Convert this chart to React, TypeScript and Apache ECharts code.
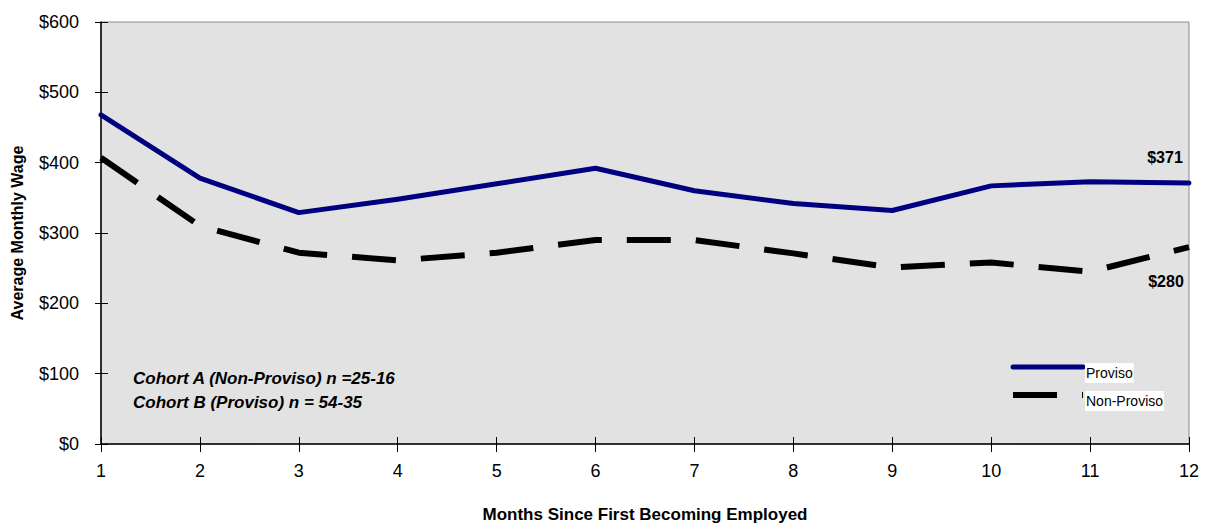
import React, { useEffect, useRef } from "react";
import * as echarts from "echarts";

const months = ["1", "2", "3", "4", "5", "6", "7", "8", "9", "10", "11", "12"];
const proviso = [468, 378, 329, 348, 370, 392, 360, 342, 332, 367, 373, 371];
const nonProviso = [407, 310, 272, 261, 272, 290, 290, 271, 251, 258, 245, 280];
const seriesNames = ["Proviso", "Non-Proviso"];
const cohortNotes = [
  "Cohort A (Non-Proviso) n =25-16",
  "Cohort B (Proviso) n = 54-35",
];

const NARROW = "'Liberation Sans Narrow', 'Arial Narrow', 'Liberation Sans', Arial, sans-serif";
const SANS = "'Liberation Sans', Arial, sans-serif";

const PROVISO_COLOR = "#000080";
const NON_PROVISO_COLOR = "#000000";
const DASH = [44, 25];

export default function App() {
  const ref = useRef<HTMLDivElement>(null);

  useEffect(() => {
    if (!ref.current) return;
    const chart = echarts.init(ref.current, null, { renderer: "svg" });
    const last = months.length - 1;

    const endLabel = (offset: number[]) => ({
      show: true,
      position: "inside",
      offset,
      fontFamily: SANS,
      fontWeight: "bold",
      fontSize: 16,
      color: "#000",
      formatter: (p: any) => (p.dataIndex === last ? "$" + p.value : ""),
    });

    const gridBox = { left: 101, right: 19, top: 22, bottom: 81, outerBoundsMode: "none" };

    // Hand-drawn key in the lower right of the plot
    const legendX = 1013;
    const legendRows = [
      { y: 367, stroke: PROVISO_COLOR, width: 5, dash: null as number[] | null, cap: "round" },
      { y: 395, stroke: NON_PROVISO_COLOR, width: 6, dash: DASH, cap: "butt" },
    ];
    const legendGraphics: any[] = [];
    legendRows.forEach((r, i) => {
      legendGraphics.push({
        type: "line",
        z: 10,
        shape: { x1: legendX, y1: r.y, x2: legendX + 70, y2: r.y },
        style: {
          stroke: r.stroke,
          lineWidth: r.width,
          lineDash: r.dash || undefined,
          lineCap: r.cap,
        },
      });
      legendGraphics.push({
        type: "text",
        z: 10,
        x: legendX + 72,
        y: r.y + 6,
        style: {
          text: seriesNames[i],
          fontFamily: NARROW,
          fontSize: 14,
          fill: "#000",
          verticalAlign: "middle",
          backgroundColor: "#ffffff",
          padding: [3, 1, 3, 1],
        },
      });
    });

    chart.setOption({
      animation: false,
      backgroundColor: "#ffffff",
      grid: [
        {
          ...gridBox,
          show: true,
          backgroundColor: "#e2e2e2",
          borderColor: "#8c8c8c",
          borderWidth: 1,
        },
        { ...gridBox, show: false },
      ],
      xAxis: [
        {
          type: "category",
          gridIndex: 0,
          data: months,
          boundaryGap: false,
          position: "bottom",
          name: "Months Since First Becoming Employed",
          nameLocation: "middle",
          nameGap: 62,
          nameTextStyle: { fontFamily: SANS, fontWeight: "bold", fontSize: 17, color: "#000" },
          axisLine: { show: true, lineStyle: { color: "#000", width: 1.5 } },
          axisTick: { show: true, length: 8, lineStyle: { color: "#000" } },
          axisLabel: { fontFamily: NARROW, fontSize: 18, color: "#000", margin: 18 },
          splitLine: { show: false },
        },
        {
          type: "category",
          gridIndex: 1,
          data: months,
          boundaryGap: false,
          position: "bottom",
          axisLine: { show: false },
          axisTick: { show: true, inside: true, length: 7, lineStyle: { color: "#000" } },
          axisLabel: { show: false },
          splitLine: { show: false },
        },
      ],
      yAxis: [
        {
          type: "value",
          gridIndex: 0,
          min: 0,
          max: 600,
          interval: 100,
          name: "Average Monthly Wage",
          nameLocation: "middle",
          nameGap: 76,
          nameTextStyle: { fontFamily: SANS, fontWeight: "bold", fontSize: 16, color: "#000" },
          axisLine: { show: true, lineStyle: { color: "#000", width: 1.5 } },
          axisTick: { show: true, length: 6, lineStyle: { color: "#000" } },
          axisLabel: {
            fontFamily: NARROW,
            fontSize: 18,
            color: "#000",
            margin: 22,
            formatter: (v: number) => "$" + v,
          },
          splitLine: { show: false },
        },
        {
          type: "value",
          gridIndex: 1,
          min: 0,
          max: 600,
          interval: 100,
          position: "left",
          axisLine: { show: false },
          axisTick: { show: true, inside: true, length: 7, lineStyle: { color: "#000" } },
          axisLabel: { show: false },
          splitLine: { show: false },
        },
      ],
      series: [
        {
          name: seriesNames[0],
          type: "line",
          data: proviso,
          symbol: "circle",
          symbolSize: 0,
          showSymbol: true,
          color: PROVISO_COLOR,
          lineStyle: { color: PROVISO_COLOR, width: 5, cap: "round", join: "round" },
          label: endLabel([-24, -26]),
          z: 3,
        },
        {
          name: seriesNames[1],
          type: "line",
          data: nonProviso,
          symbol: "circle",
          symbolSize: 0,
          showSymbol: true,
          color: NON_PROVISO_COLOR,
          lineStyle: { color: NON_PROVISO_COLOR, width: 6, type: DASH },
          label: endLabel([-23, 34]),
          z: 2,
        },
      ],
      graphic: [
        ...cohortNotes.map((t, i) => ({
          type: "text",
          x: 133,
          y: 378 + i * 24,
          z: 10,
          style: {
            text: t,
            fontFamily: SANS,
            fontWeight: "bold",
            fontStyle: "italic",
            fontSize: 17,
            fill: "#000",
            verticalAlign: "middle",
          },
        })),
        ...legendGraphics,
      ],
    });

    return () => chart.dispose();
  }, []);

  return (
    <div
      ref={ref}
      style={{ position: "fixed", left: 0, top: 0, width: 1208, height: 525 }}
    />
  );
}
